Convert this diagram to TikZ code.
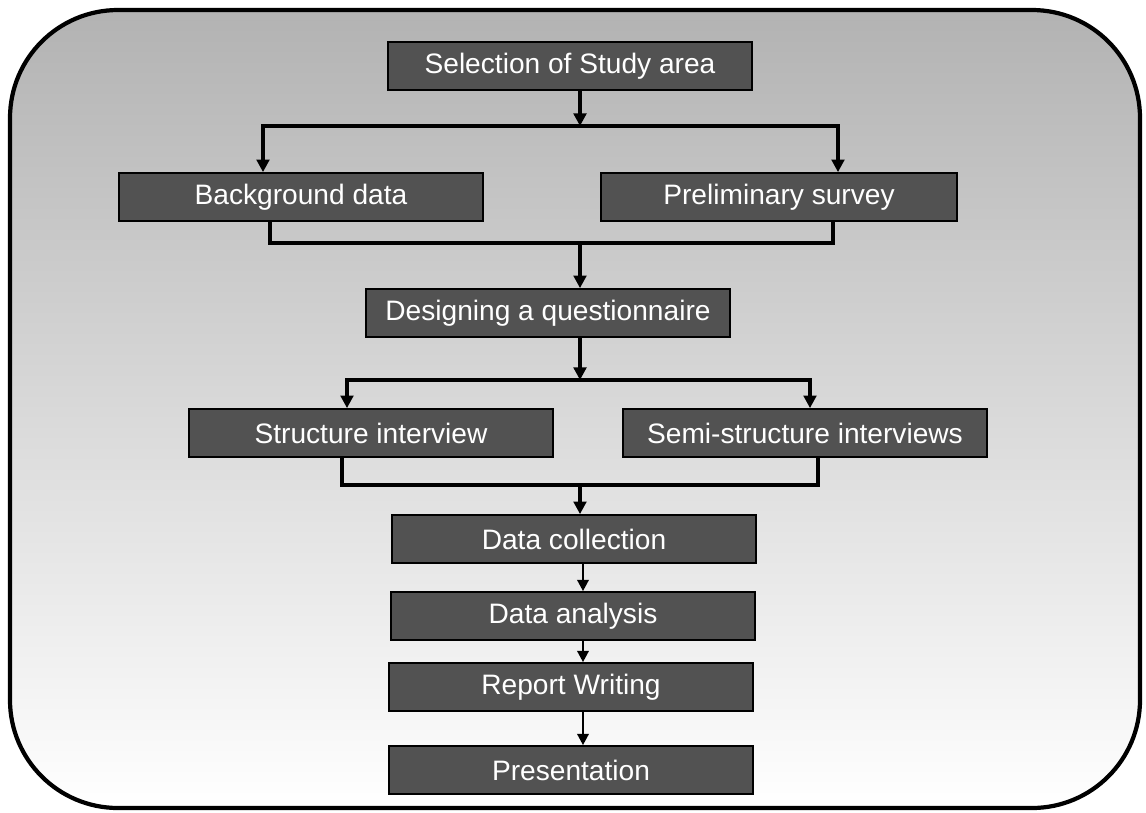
\documentclass[tikz,border=0pt]{standalone}
\usepackage{fontspec}
\setmainfont{Liberation Sans}
\usetikzlibrary{arrows.meta}

\begin{document}
\begin{tikzpicture}[x=0.025cm,y=-0.025cm,
    box/.style={draw=black,line width=1.2pt,fill=black!68,text=white,
      minimum width=9.1cm,minimum height=1.2cm,inner sep=0pt,
      font=\fontsize{20}{24}\selectfont},
    con/.style={line width=2.4pt,line cap=rect},
    arr/.style={con,-{Triangle[length=9pt,width=9pt]}},
    thinarr/.style={line width=1.8pt,-{Triangle[length=8pt,width=8pt]}}]
  \useasboundingbox (0,0) rectangle (1146,812);
  \shade[top color=black!30,middle color=black!20,bottom color=white,rounded corners=2.7cm] (10,10) rectangle (1140,808);
  \draw[line width=3pt,rounded corners=2.7cm] (10,10) rectangle (1140,808);

  \node[box] (sel) at (570,66) {Selection of Study area};
  \node[box] (bg) at (301,197) {Background data};
  \node[box,minimum width=8.9cm] (pre) at (779,197) {Preliminary survey};
  \node[box] (des) at (548,313) {Designing a questionnaire};
  \node[box] (str) at (371,433) {Structure interview};
  \node[box] (semi) at (805,433) {Semi-structure interviews};
  \node[box] (coll) at (574,539) {Data collection};
  \node[box] (anal) at (573,616) {Data analysis};
  \node[box] (rep) at (571,687) {Report Writing};
  \node[box] (pres) at (571,770) {Presentation};

  % split and join points
  \coordinate (s1) at (580,126);
  \coordinate (s1l) at (263,126);
  \coordinate (s1r) at (838,126);
  \coordinate (j1) at (580,243);
  \coordinate (j1l) at (270,243);
  \coordinate (j1r) at (833,243);
  \coordinate (s2) at (580,380);
  \coordinate (s2l) at (347,380);
  \coordinate (s2r) at (810,380);
  \coordinate (j2) at (580,485);
  \coordinate (j2l) at (342,485);
  \coordinate (j2r) at (818,485);
  \coordinate (v) at (583,0);

  \draw[arr] (sel.south -| s1) -- (s1);
  \draw[con] (s1l) -- (s1r);
  \draw[arr] (s1l) -- (s1l |- bg.north);
  \draw[arr] (s1r) -- (s1r |- pre.north);

  \draw[con] (bg.south -| j1l) -- (j1l) -- (j1r) -- (pre.south -| j1r);
  \draw[arr] (j1) -- (j1 |- des.north);

  \draw[arr] (des.south -| s2) -- (s2);
  \draw[con] (s2l) -- (s2r);
  \draw[arr] (s2l) -- (s2l |- str.north);
  \draw[arr] (s2r) -- (s2r |- semi.north);

  \draw[con] (str.south -| j2l) -- (j2l) -- (j2r) -- (semi.south -| j2r);
  \draw[arr] (j2) -- (j2 |- coll.north);

  \draw[thinarr] (coll.south -| v) -- (anal.north -| v);
  \draw[thinarr] (anal.south -| v) -- (rep.north -| v);
  \draw[thinarr] (rep.south -| v) -- (pres.north -| v);
\end{tikzpicture}
\end{document}
